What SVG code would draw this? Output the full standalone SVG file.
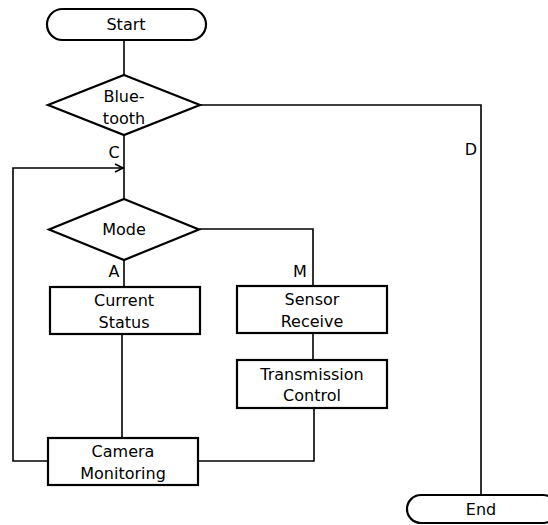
<svg xmlns="http://www.w3.org/2000/svg" width="548" height="525" viewBox="0 0 548 525">
<defs>
<style>
.shape{fill:#fff;stroke:#000;stroke-width:2.2}
.line{fill:none;stroke:#000;stroke-width:1.6}
text{font-family:"DejaVu Sans","Liberation Sans",Arial,sans-serif;font-size:16px;fill:#000;text-anchor:middle}
.lbl{font-size:16px}
</style>
<marker id="arr" viewBox="0 0 10 10" refX="9" refY="5" markerWidth="10" markerHeight="10" markerUnits="userSpaceOnUse" orient="auto">
<path d="M1,1 L9,5 L1,9" fill="none" stroke="#000" stroke-width="1.6"/>
</marker>
</defs>
<rect width="548" height="525" fill="#fff"/>
<g id="connectors">
<line class="line" x1="124" y1="40" x2="124" y2="75"/>
<line class="line" x1="124" y1="135" x2="124" y2="199"/>
<polyline class="line" points="200,105 481,105 481,495"/>
<polyline class="line" points="124,260 124,287"/>
<polyline class="line" points="199,229 313,229 313,287"/>
<line class="line" x1="313" y1="333" x2="313" y2="360"/>
<line class="line" x1="122" y1="334" x2="122" y2="438"/>
<polyline class="line" points="198,461 314,461 314,408"/>
<polyline class="line" points="48,461 13,461 13,168 123,168" marker-end="url(#arr)"/>
<text class="lbl" x="114" y="158">C</text>
<text class="lbl" x="471" y="155">D</text>
<text class="lbl" x="114" y="277">A</text>
<text class="lbl" x="300" y="277">M</text>
</g>
<g id="start">
<rect class="shape" x="47" y="9" width="159" height="31" rx="15.5"/>
<text x="126" y="30">Start</text>
</g>
<g id="bluetooth">
<polygon class="shape" points="124,75 200,105 124,135 48,105"/>
<text x="124" y="102">Blue-</text>
<text x="124" y="124">tooth</text>
</g>
<g id="mode">
<polygon class="shape" points="124,199 199,229.5 124,260 49,229.5"/>
<text x="124" y="235">Mode</text>
</g>
<g id="current-status">
<rect class="shape" x="50" y="287" width="150" height="47"/>
<text x="124" y="306">Current</text>
<text x="124" y="328">Status</text>
</g>
<g id="sensor-receive">
<rect class="shape" x="237" y="286" width="150" height="47"/>
<text x="312" y="305">Sensor</text>
<text x="312" y="327">Receive</text>
</g>
<g id="transmission-control">
<rect class="shape" x="237" y="360" width="150" height="48"/>
<text x="312" y="380">Transmission</text>
<text x="312" y="401">Control</text>
</g>
<g id="camera-monitoring">
<rect class="shape" x="48" y="438" width="150" height="47"/>
<text x="123" y="457">Camera</text>
<text x="123" y="479">Monitoring</text>
</g>
<g id="end">
<rect class="shape" x="407" y="495" width="150" height="28" rx="14"/>
<text x="481" y="515">End</text>
</g>
</svg>
